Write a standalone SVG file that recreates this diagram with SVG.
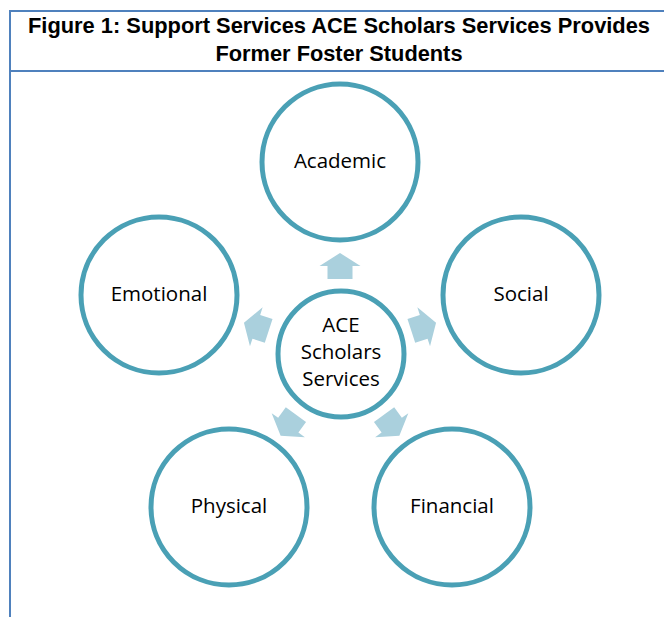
<svg xmlns="http://www.w3.org/2000/svg" width="664" height="617" viewBox="0 0 664 617">
<style>
.frame{stroke:#4f81bd;stroke-width:2;fill:none}
.title{font-family:"Liberation Sans Narrow","Liberation Sans",Arial,sans-serif;font-weight:bold;font-size:22px;fill:#000;text-anchor:middle}
.ring{fill:#fff;stroke:#4aa0b5;stroke-width:5}
.lbl{font-family:"Open Sans","Liberation Sans",Arial,sans-serif;font-size:20.5px;fill:#000;text-anchor:middle}
.arr{fill:#aad0dd}
</style>
<defs>
<polygon id="arrow" points="0,-101 20.5,-88 12.5,-88 12.5,-75 -12.5,-75 -12.5,-88 -20.5,-88"/>
</defs>
<rect width="664" height="617" fill="#fff"/>
<g id="frame">
<line class="frame" x1="10" y1="11" x2="664" y2="11"/>
<line class="frame" x1="10" y1="71" x2="664" y2="71"/>
<line class="frame" x1="10" y1="10" x2="10" y2="617"/>
</g>
<g id="title">
<text class="title" x="339" y="33" textLength="622" lengthAdjust="spacingAndGlyphs">Figure 1: Support Services ACE Scholars Services Provides</text>
<text class="title" x="339" y="61" textLength="247" lengthAdjust="spacingAndGlyphs">Former Foster Students</text>
</g>
<g id="connectors">
<use href="#arrow" class="arr" transform="translate(340,354)"/>
<use href="#arrow" class="arr" transform="translate(340,354) rotate(72)"/>
<use href="#arrow" class="arr" transform="translate(340,354) rotate(144)"/>
<use href="#arrow" class="arr" transform="translate(340,354) rotate(216)"/>
<use href="#arrow" class="arr" transform="translate(340,354) rotate(288)"/>
</g>
<g id="center">
<circle class="ring" cx="341" cy="354" r="63"/>
<text class="lbl" x="341" y="332">ACE</text>
<text class="lbl" x="341" y="359">Scholars</text>
<text class="lbl" x="341" y="386">Services</text>
</g>
<g id="academic">
<circle class="ring" cx="340" cy="162" r="78"/>
<text class="lbl" x="340" y="168">Academic</text>
</g>
<g id="social">
<circle class="ring" cx="521" cy="295" r="78"/>
<text class="lbl" x="521" y="301">Social</text>
</g>
<g id="financial">
<circle class="ring" cx="452" cy="507" r="78"/>
<text class="lbl" x="452" y="513">Financial</text>
</g>
<g id="physical">
<circle class="ring" cx="229" cy="507" r="78"/>
<text class="lbl" x="229" y="513">Physical</text>
</g>
<g id="emotional">
<circle class="ring" cx="159" cy="295" r="78"/>
<text class="lbl" x="159" y="301">Emotional</text>
</g>
</svg>
